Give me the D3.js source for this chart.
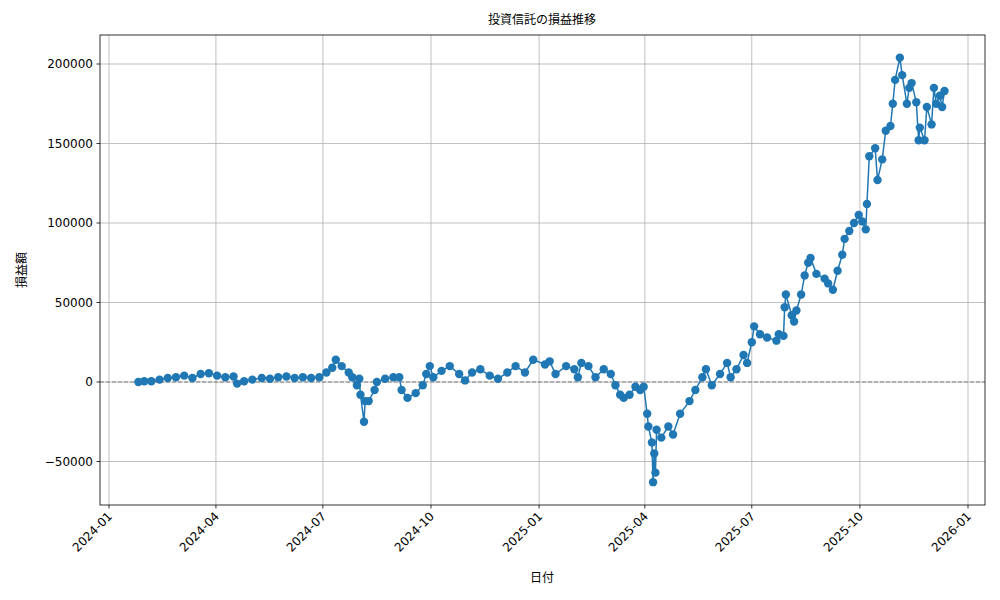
<!DOCTYPE html><html><head><meta charset="utf-8"><script src="https://cdn.jsdelivr.net/npm/d3@7"></script>
<style>body{margin:0;background:#fff}text{font-family:"DejaVu Sans","Noto Sans CJK JP",sans-serif}</style></head><body><svg id="c" width="1000" height="600"></svg><script>
const dates=["2024-01-26","2024-01-31","2024-02-06","2024-02-13","2024-02-20","2024-02-27","2024-03-05","2024-03-12","2024-03-19","2024-03-26","2024-04-02","2024-04-09","2024-04-16","2024-04-19","2024-04-25","2024-05-02","2024-05-10","2024-05-17","2024-05-24","2024-05-31","2024-06-07","2024-06-14","2024-06-21","2024-06-28","2024-07-04","2024-07-09","2024-07-12","2024-07-17","2024-07-23","2024-07-26","2024-07-30","2024-08-01","2024-08-02","2024-08-05","2024-08-06","2024-08-09","2024-08-14","2024-08-16","2024-08-23","2024-08-30","2024-09-04","2024-09-06","2024-09-11","2024-09-18","2024-09-24","2024-09-27","2024-09-30","2024-10-03","2024-10-10","2024-10-17","2024-10-25","2024-10-30","2024-11-05","2024-11-12","2024-11-20","2024-11-27","2024-12-05","2024-12-12","2024-12-20","2024-12-27","2025-01-06","2025-01-10","2025-01-15","2025-01-24","2025-01-31","2025-02-03","2025-02-06","2025-02-12","2025-02-18","2025-02-25","2025-03-03","2025-03-07","2025-03-11","2025-03-14","2025-03-19","2025-03-24","2025-03-28","2025-03-31","2025-04-03","2025-04-04","2025-04-07","2025-04-08","2025-04-09","2025-04-10","2025-04-11","2025-04-15","2025-04-21","2025-04-25","2025-05-01","2025-05-09","2025-05-14","2025-05-20","2025-05-23","2025-05-28","2025-06-04","2025-06-10","2025-06-13","2025-06-18","2025-06-24","2025-06-27","2025-07-01","2025-07-03","2025-07-08","2025-07-14","2025-07-22","2025-07-24","2025-07-28","2025-07-29","2025-07-30","2025-08-04","2025-08-06","2025-08-08","2025-08-12","2025-08-15","2025-08-18","2025-08-20","2025-08-25","2025-09-01","2025-09-04","2025-09-08","2025-09-12","2025-09-16","2025-09-18","2025-09-22","2025-09-26","2025-09-30","2025-10-03","2025-10-06","2025-10-07","2025-10-09","2025-10-14","2025-10-16","2025-10-20","2025-10-23","2025-10-27","2025-10-29","2025-10-31","2025-11-04","2025-11-06","2025-11-10","2025-11-12","2025-11-14","2025-11-18","2025-11-20","2025-11-21","2025-11-25","2025-11-27","2025-12-01","2025-12-03","2025-12-05","2025-12-08","2025-12-10","2025-12-12"];
const values=[0,500,500,1500,2500,3000,4000,2500,5000,5500,4000,3000,3500,-1000,500,1500,2500,2000,3000,3500,2500,3000,2500,3000,6000,9000,14000,10000,6000,3000,-2000,2000,-8000,-25000,-12000,-12000,-5000,0,2000,3000,3000,-5000,-10000,-7000,-2000,5000,10000,3000,7000,10000,5000,1000,6000,8000,4000,2000,6000,10000,6000,14000,11000,13000,5000,10000,8000,3000,12000,10000,3000,8000,5000,-2000,-8000,-10000,-8000,-3000,-5000,-3000,-20000,-28000,-38000,-63000,-45000,-57000,-30000,-35000,-28000,-33000,-20000,-12000,-5000,3000,8000,-2000,5000,12000,3000,8000,17000,12000,25000,35000,30000,28000,26000,30000,29000,47000,55000,42000,38000,45000,55000,67000,75000,78000,68000,65000,62000,58000,70000,80000,90000,95000,100000,105000,101000,96000,112000,142000,147000,127000,140000,158000,161000,175000,190000,204000,193000,175000,185000,188000,176000,152000,160000,152000,173000,162000,185000,175000,180000,173000,183000];
const xTicks=["2024-01","2024-04","2024-07","2024-10","2025-01","2025-04","2025-07","2025-10","2026-01"];
const yTicks=[-50000,0,50000,100000,150000,200000];
const p=d3.timeParse("%Y-%m-%d"),pm=d3.timeParse("%Y-%m");
const data=dates.map((d,i)=>({d:p(d),v:values[i]}));
const svg=d3.select("#c");
const L=100,R=985,T=35,B=505;
const x=d3.scaleTime().domain([pm("2024-01"),pm("2026-01")]).range([109,968]);
const y=d3.scaleLinear().domain([0,200000]).range([382,64]);
const g=svg.append("g");
xTicks.forEach(t=>{const xx=x(pm(t));g.append("line").attr("x1",xx).attr("x2",xx).attr("y1",T).attr("y2",B).attr("stroke","#b0b0b0").attr("stroke-width",0.8);
g.append("line").attr("x1",xx).attr("x2",xx).attr("y1",B).attr("y2",B+3.5).attr("stroke","#000").attr("stroke-width",0.8);
g.append("text").attr("transform",`translate(${xx+4},${B+12}) rotate(-45)`).attr("text-anchor","end").attr("font-size",12).text(t);});
yTicks.forEach(t=>{const yy=y(t);g.append("line").attr("x1",L).attr("x2",R).attr("y1",yy).attr("y2",yy).attr("stroke","#b0b0b0").attr("stroke-width",0.8);
g.append("line").attr("x1",L-3.5).attr("x2",L).attr("y1",yy).attr("y2",yy).attr("stroke","#000").attr("stroke-width",0.8);
g.append("text").attr("x",L-7).attr("y",yy+4).attr("text-anchor","end").attr("font-size",12).text(t<0?"\u2212"+(-t):t);});
g.append("line").attr("x1",L).attr("x2",R).attr("y1",y(0)).attr("y2",y(0)).attr("stroke","gray").attr("stroke-dasharray","4,2").attr("stroke-width",1);
g.append("path").datum(data).attr("d",d3.line().x(d=>x(d.d)).y(d=>y(d.v))).attr("fill","none").attr("stroke","#1f77b4").attr("stroke-width",1.5);
g.selectAll("circle").data(data).enter().append("circle").attr("cx",d=>x(d.d)).attr("cy",d=>y(d.v)).attr("r",4.2).attr("fill","#1f77b4");
g.append("rect").attr("x",L).attr("y",T).attr("width",R-L).attr("height",B-T).attr("fill","none").attr("stroke","#000").attr("stroke-width",0.8);
svg.append("text").attr("x",542).attr("y",24).attr("text-anchor","middle").attr("font-size",12).text("投資信託の損益推移");
svg.append("text").attr("x",542).attr("y",582).attr("text-anchor","middle").attr("font-size",12).text("日付");
svg.append("text").attr("transform","translate(26,270) rotate(-90)").attr("text-anchor","middle").attr("font-size",12).text("損益額");
</script></body></html>
